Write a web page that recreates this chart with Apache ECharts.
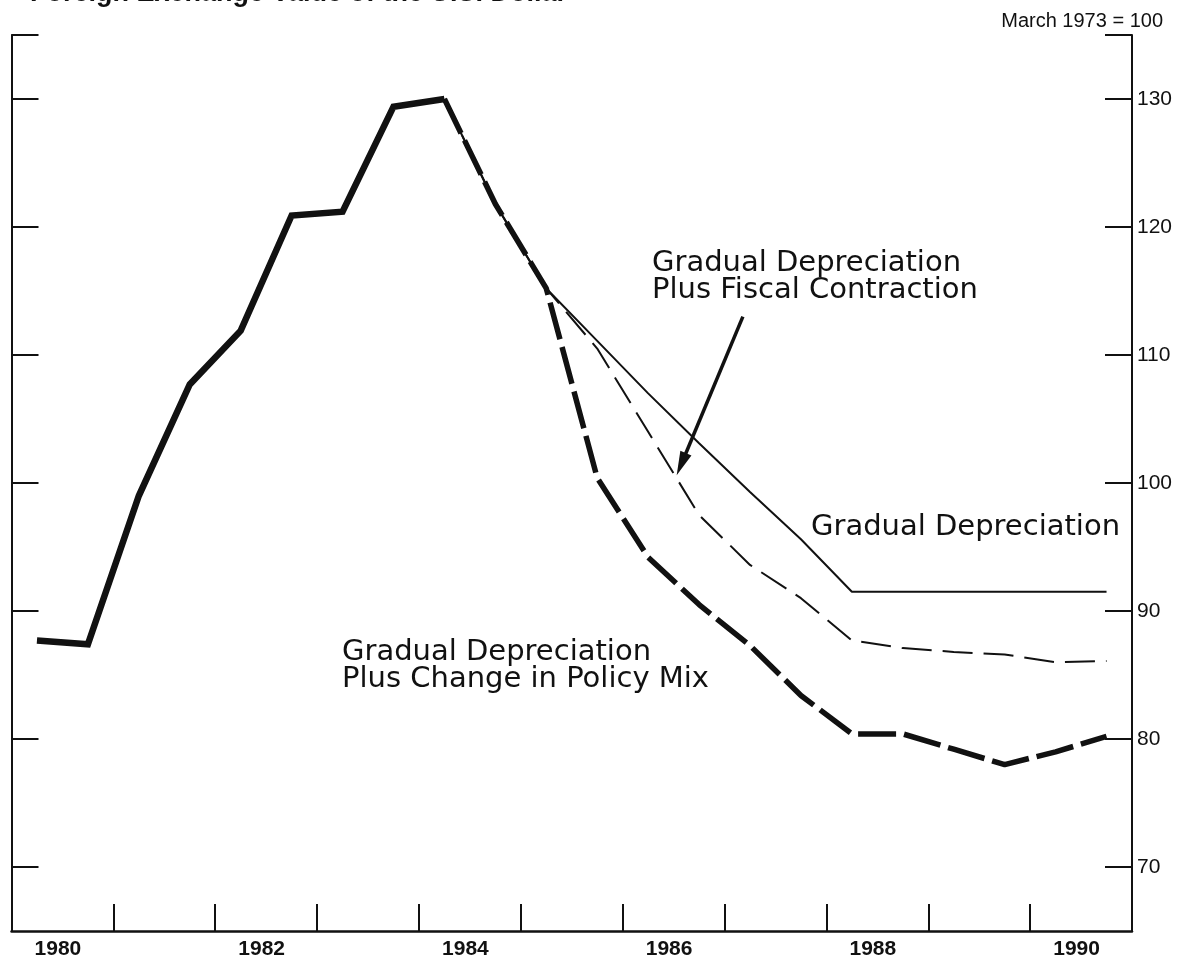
<!DOCTYPE html>
<html>
<head>
<meta charset="utf-8">
<title>Foreign Exchange Value of the U.S. Dollar</title>
<script src="https://cdn.jsdelivr.net/npm/echarts@6/dist/echarts.min.js"></script>
<style>
  html, body { margin: 0; padding: 0; background: #fff; }
  #chart { width: 1177px; height: 962px; }
</style>
</head>
<body>
<div id="chart"></div>
<script>
// half-year observations, plotted in the middle of each half (x.25 / x.75)
const HIST_X = [1980.25, 1980.75, 1981.25, 1981.75, 1982.25, 1982.75, 1983.25, 1983.75, 1984.25]
const HIST = [87.7, 87.4, 99.0, 107.7, 111.9, 120.9, 121.2, 129.4, 130.0]

const PROJ_X = [1984.25, 1984.75, 1985.25, 1985.75, 1986.25, 1986.75, 1987.25,
  1987.75, 1988.25, 1988.75, 1989.25, 1989.75, 1990.25, 1990.75]
const GRADUAL = [130.0, 121.8, 115.2, 111.1, 107.0, 103.1, 99.3, 95.6, 91.5, 91.5, 91.5, 91.5, 91.5, 91.5]
const FISCAL = [130.0, 121.8, 115.2, 110.5, 104.0, 97.5, 93.6, 91.0, 87.7, 87.1, 86.8, 86.6, 86.0, 86.1]
const POLICY_MIX = [130.0, 121.8, 115.2, 100.4, 94.2, 90.5, 87.3, 83.4, 80.4, 80.4, 79.2, 78.0, 79.0, 80.2]

const Y_TICKS = [70, 80, 90, 100, 110, 120, 130]
const Y_MIN = 65
const Y_MAX = 135
const X_TICKS = [1981, 1982, 1983, 1984, 1985, 1986, 1987, 1988, 1989, 1990]
const X_LABELS = [1980, 1982, 1984, 1986, 1988, 1990]

// arrow from the fiscal-contraction note down to its line (data coords)
const ARROW_FROM = [1987.18, 113.0]
const ARROW_TO = [1986.53, 100.6]

const INK = '#111'
const NOTE_FONT = '29px "DejaVu Sans"'

function pairs(xs, ys) {
  return xs.map((x, i) => [x, ys[i]])
}

function yAxis(position, showLabels) {
  return {
    type: 'value',
    position,
    min: Y_MIN,
    max: Y_MAX,
    splitLine: { show: false },
    axisLine: { show: true, lineStyle: { color: INK, width: 2 } },
    axisTick: {
      show: true,
      inside: true,
      length: 27,
      customValues: Y_TICKS.concat(Y_MAX),
      lineStyle: { color: INK, width: 2 },
    },
    axisLabel: {
      show: showLabels,
      customValues: Y_TICKS,
      margin: 5,
      color: INK,
      fontFamily: 'Liberation Sans',
      fontSize: 21,
    },
  }
}

function note(id, x, y, text) {
  return {
    id,
    type: 'text',
    left: x,
    top: y,
    style: { text, fill: INK, font: NOTE_FONT, lineHeight: 27 },
  }
}

function buildGraphic(arrow) {
  const items = [
    {
      id: 'title',
      type: 'text',
      left: 30,
      top: -20,
      style: {
        text: 'Foreign Exchange Value of the U.S. Dollar',
        fill: INK,
        font: 'bold 27px "Liberation Sans"',
      },
    },
    {
      id: 'unit',
      type: 'text',
      right: 14,
      top: 11,
      style: { text: 'March 1973 = 100', fill: INK, font: '20px "Liberation Sans"' },
    },
    note('fiscal', 652, 249, 'Gradual Depreciation\nPlus Fiscal Contraction'),
    note('gradual', 811, 513, 'Gradual Depreciation'),
    note('mix', 342, 638, 'Gradual Depreciation\nPlus Change in Policy Mix'),
  ]
  if (arrow) items.push(...arrow)
  return items
}

function buildArrow(chart) {
  const p0 = chart.convertToPixel({ gridIndex: 0 }, ARROW_FROM)
  const p1 = chart.convertToPixel({ gridIndex: 0 }, ARROW_TO)
  const dx = p1[0] - p0[0]
  const dy = p1[1] - p0[1]
  const len = Math.sqrt(dx * dx + dy * dy)
  const ux = dx / len
  const uy = dy / len
  const headLen = 24
  const headHalf = 6
  const bx = p1[0] - ux * headLen
  const by = p1[1] - uy * headLen
  return [
    {
      id: 'arrowShaft',
      type: 'line',
      shape: { x1: p0[0], y1: p0[1], x2: bx + ux * 2, y2: by + uy * 2 },
      style: { stroke: INK, lineWidth: 3.5 },
    },
    {
      id: 'arrowHead',
      type: 'polygon',
      shape: {
        points: [
          [p1[0], p1[1]],
          [bx - uy * headHalf, by + ux * headHalf],
          [bx + uy * headHalf, by - ux * headHalf],
        ],
      },
      style: { fill: INK },
    },
  ]
}

const chart = echarts.init(document.getElementById('chart'))

chart.setOption({
  backgroundColor: '#fff',
  animation: false,
  grid: { left: 11.5, right: 45, top: 35, bottom: 31 },
  xAxis: {
    type: 'value',
    min: 1980,
    max: 1991,
    splitLine: { show: false },
    axisLine: { show: true, onZero: false, lineStyle: { color: INK, width: 2.5 } },
    axisTick: {
      show: true,
      inside: true,
      length: 27,
      customValues: X_TICKS,
      lineStyle: { color: INK, width: 2 },
    },
    axisLabel: {
      customValues: X_LABELS.map((y) => y + 0.5),
      formatter: (v) => String(Math.floor(v)),
      margin: 8,
      padding: [0, 9, 0, 0],
      color: INK,
      fontFamily: 'Liberation Sans',
      fontWeight: 'bold',
      fontSize: 21,
    },
  },
  yAxis: [yAxis('right', true), yAxis('left', false)],
  series: [
    {
      name: 'Gradual Depreciation',
      type: 'line',
      data: pairs(PROJ_X, GRADUAL),
      showSymbol: false,
      lineStyle: { color: INK, width: 2 },
      z: 2,
    },
    {
      name: 'Gradual Depreciation Plus Fiscal Contraction',
      type: 'line',
      data: pairs(PROJ_X, FISCAL),
      showSymbol: false,
      lineStyle: { color: INK, width: 2, type: [30, 11] },
      z: 3,
    },
    {
      name: 'Gradual Depreciation Plus Change in Policy Mix',
      type: 'line',
      data: pairs(PROJ_X, POLICY_MIX),
      showSymbol: false,
      lineStyle: { color: INK, width: 5.5, type: [38, 8] },
      z: 4,
    },
    {
      name: 'Actual',
      type: 'line',
      data: pairs(HIST_X, HIST),
      showSymbol: false,
      lineStyle: { color: INK, width: 6.5, join: 'miter' },
      z: 5,
    },
  ],
  graphic: buildGraphic(null),
})

// arrow drawn once the axes are laid out
chart.setOption({ graphic: buildGraphic(buildArrow(chart)) })
</script>
</body>
</html>
